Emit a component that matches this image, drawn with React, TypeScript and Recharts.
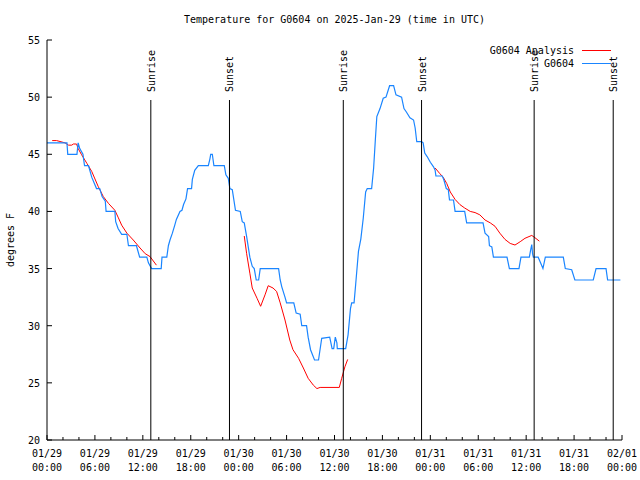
import React from 'react'
import { LineChart, Line, XAxis, YAxis, ReferenceLine, Legend } from 'recharts'

const TITLE = 'Temperature for G0604 on 2025-Jan-29 (time in UTC)'
const FONT = '"DejaVu Sans Mono", "Liberation Mono", monospace'
const BLUE = '#1a85ff'
const RED = '#ff0000'

// G0604 observations: [hours since 01/29 00:00 UTC, degrees F]
const OBSERVED: [number, number][] = [
  [0, 46], [2.5, 46], [2.6, 45], [3.75, 45], [3.9, 46], [4.1, 45.5], [4.5, 45], [4.7, 44],
  [5.2, 44], [5.6, 43], [6.2, 42], [6.6, 42], [6.9, 41.3], [7.3, 40.9], [7.4, 40], [8.5, 40],
  [8.6, 39.1], [8.9, 38.5], [9.35, 38], [10.0, 38], [10.2, 37], [11.2, 37], [11.6, 36], [12.5, 36],
  [12.7, 35.5], [13.1, 35], [14.3, 35], [14.4, 36], [15.0, 36], [15.2, 37], [15.4, 37.5], [15.7, 38.1],
  [16.0, 38.8], [16.2, 39.3], [16.65, 40], [16.9, 40.1], [17.1, 40.6], [17.4, 41.1], [17.6, 42], [18.1, 42],
  [18.2, 42.8], [18.5, 43.6], [18.95, 44], [20.2, 44], [20.4, 44.6], [20.5, 45], [20.7, 45], [20.9, 44],
  [22.2, 44], [22.4, 43.2], [22.7, 42.9], [22.9, 42], [23.2, 41.9], [23.6, 40.1], [24.2, 40], [24.45, 39.1],
  [24.7, 39], [25.0, 37.8], [25.4, 36], [25.7, 35.2], [25.95, 35], [26.2, 34], [26.5, 34], [26.7, 35],
  [29.0, 35], [29.2, 34], [29.4, 33.4], [29.8, 32.5], [30.0, 32], [30.9, 32], [31.2, 31.1], [31.7, 31],
  [31.9, 30], [32.5, 30], [32.7, 29], [33.0, 27.9], [33.5, 27], [34.0, 27], [34.4, 28.9], [35.4, 29],
  [35.7, 28], [35.9, 28], [36.1, 29], [36.3, 28.5], [36.35, 28], [37.4, 28], [37.7, 29.2], [38.0, 31.5],
  [38.15, 32], [38.45, 32], [38.65, 33.6], [39.0, 36.5], [39.3, 37.6], [39.6, 39.4], [39.9, 41.7], [40.1, 42],
  [40.65, 42], [40.9, 43.8], [41.1, 46.1], [41.3, 48.3], [41.7, 49], [42.1, 49.9], [42.45, 50], [42.9, 51],
  [43.4, 51], [43.7, 50.2], [44.4, 50], [44.7, 49], [45.0, 48.7], [45.45, 48.2], [45.9, 48], [46.1, 47.3],
  [46.3, 46.1], [46.9, 46.1], [47.1, 46], [47.3, 45.1], [47.6, 44.8], [48.0, 44.3], [48.4, 43.9], [48.6, 43.6],
  [48.7, 43.1], [49.5, 43.1], [49.7, 42.75], [50.0, 42], [50.25, 41.9], [50.4, 41], [50.9, 41], [51.1, 40],
  [52.3, 40], [52.55, 39], [54.6, 39], [54.85, 38.1], [55.3, 37.8], [55.4, 37], [55.7, 36.9], [55.9, 36],
  [57.6, 36], [57.9, 35], [59.1, 35], [59.35, 36], [60.4, 36], [60.55, 36.6], [60.7, 37.1], [60.8, 36.3],
  [60.9, 36], [61.5, 36], [61.8, 35.5], [62.1, 35], [62.4, 36], [64.65, 36], [64.9, 35], [65.7, 34.9],
  [66.1, 34], [68.4, 34], [68.75, 35], [70.0, 35], [70.2, 34], [71.8, 34],
]

// G0604 Analysis, one run per day
const ANALYSIS_DAY1: [number, number][] = [
  [0.65, 46.2], [1.2, 46.2], [2.25, 46.0], [2.7, 45.8], [3.1, 45.8], [3.3, 45.9], [3.7, 45.9], [3.9, 45.5],
  [4.3, 45.0], [5.0, 44.2], [5.6, 43.5], [6.4, 42.2], [7.05, 41.3], [7.7, 40.7], [8.5, 40.1], [8.9, 39.5],
  [9.35, 38.8], [10.0, 38.1], [10.8, 37.5], [11.65, 36.8], [12.3, 36.3], [12.9, 36.05], [13.7, 35.3],
]
const ANALYSIS_DAY2: [number, number][] = [
  [24.7, 37.85], [25.0, 36.3], [25.4, 34.6], [25.7, 33.3], [26.3, 32.4], [26.75, 31.7], [27.3, 32.7], [27.7, 33.5],
  [28.3, 33.3], [28.75, 33.0], [29.2, 32.0], [29.8, 30.5], [30.4, 28.75], [30.8, 27.9], [31.5, 27.15], [32.1, 26.3],
  [32.7, 25.4], [33.35, 24.8], [33.8, 24.5], [34.2, 24.6], [36.6, 24.6], [36.9, 25.4], [37.3, 26.4], [37.65, 27.05],
]
const ANALYSIS_DAY3: [number, number][] = [
  [48.6, 43.8], [49.2, 43.3], [49.6, 43.0], [50.05, 42.45], [50.5, 41.7], [51.1, 41.05], [51.7, 40.6], [52.3, 40.3],
  [53.0, 40.0], [53.6, 39.9], [54.2, 39.7], [54.85, 39.25], [55.5, 39.0], [56.1, 38.7], [56.7, 38.1], [57.35, 37.55],
  [58.0, 37.2], [58.6, 37.06], [59.25, 37.35], [59.85, 37.65], [60.7, 37.9], [61.1, 37.7], [61.65, 37.4],
]

const SUNRISE_HOURS = [13.0, 37.1, 61.0]
const SUNSET_HOURS = [22.85, 46.9, 70.9]
const SUN_LINE_TOP = 49.75

const X_TICKS = [0, 2, 4, 6, 8, 10, 12, 14, 16, 18, 20, 22, 24, 26, 28, 30, 32, 34, 36, 38, 40, 42, 44, 46, 48, 50, 52, 54, 56, 58, 60, 62, 64, 66, 68, 70, 72]
const X_MAJOR = [0, 6, 12, 18, 24, 30, 36, 42, 48, 54, 60, 66, 72]
const X_DATES = ['01/29', '01/29', '01/29', '01/29', '01/30', '01/30', '01/30', '01/30', '01/31', '01/31', '01/31', '01/31', '02/01']
const X_TIMES = ['00:00', '06:00', '12:00', '18:00', '00:00', '06:00', '12:00', '18:00', '00:00', '06:00', '12:00', '18:00', '00:00']
const Y_TICKS = [20, 25, 30, 35, 40, 45, 50, 55]

const toPoints = (rows: [number, number][]) => rows.map(([h, t]) => ({ h, t }))

const txt = { fontFamily: FONT, fontSize: 10, fill: '#000' }

function BottomTick(props: any) {
  const { x, y, payload } = props
  const i = X_MAJOR.indexOf(payload.value)
  return (
    <g>
      <line x1={x} y1={y} x2={x} y2={y - (i >= 0 ? 5 : 3)} stroke="#000" />
      {i >= 0 && (
        <>
          <text x={x} y={y + 17} textAnchor="middle" {...txt}>{X_DATES[i]}</text>
          <text x={x} y={y + 31} textAnchor="middle" {...txt}>{X_TIMES[i]}</text>
        </>
      )}
    </g>
  )
}

function TopTick(props: any) {
  const { x, y, payload } = props
  const major = X_MAJOR.includes(payload.value)
  return <line x1={x} y1={y} x2={x} y2={y + (major ? 5 : 3)} stroke="#000" />
}

function LeftTick(props: any) {
  const { x, y, payload } = props
  return (
    <g>
      <line x1={x} y1={y} x2={x + 5} y2={y} stroke="#000" />
      <text x={x - 7} y={y + 4} textAnchor="end" {...txt}>{payload.value}</text>
    </g>
  )
}

function RightTick(props: any) {
  const { x, y } = props
  return <line x1={x} y1={y} x2={x - 5} y2={y} stroke="#000" />
}

// vertical text sitting just above the sunrise/sunset line
function sunLabel(text: string) {
  return (props: any) => {
    const vb = props.viewBox || {}
    const top = Math.min(vb.y, vb.y + (vb.height || 0))
    const x = vb.x + 4
    const y = top - 8
    return (
      <text x={x} y={y} transform={`rotate(-90, ${x}, ${y})`} textAnchor="start" {...txt}>
        {text}
      </text>
    )
  }
}

function YTitle(props: any) {
  const vb = props.viewBox
  const x = vb.x + 14
  const y = vb.y + vb.height / 2
  return (
    <text x={x} y={y} transform={`rotate(-90, ${x}, ${y})`} textAnchor="middle" {...txt}>
      degrees F
    </text>
  )
}

function KeyBox() {
  const rows = [
    { name: 'G0604 Analysis', color: RED, w: 1 },
    { name: 'G0604', color: BLUE, w: 1 },
  ]
  return (
    <div style={{ position: 'absolute', left: 380, top: 44, fontFamily: FONT, fontSize: 10, color: '#000' }}>
      {rows.map((r) => (
        <div key={r.name} style={{ display: 'flex', alignItems: 'center', height: 13 }}>
          <span style={{ width: 194, textAlign: 'right', whiteSpace: 'pre' }}>{r.name}</span>
          <span style={{ marginLeft: 8, width: 29, height: 0, borderTop: `${r.w}px solid ${r.color}` }} />
        </div>
      ))}
    </div>
  )
}

export default function App() {
  return (
    <div style={{ position: 'absolute', left: 0, top: 0, width: 640, height: 480, background: '#fff' }}>
      <div
        style={{
          position: 'absolute', left: 47, top: 13, width: 575, textAlign: 'center',
          fontFamily: FONT, fontSize: 10, lineHeight: '14px', whiteSpace: 'pre',
        }}
      >
        {TITLE}
      </div>
      <LineChart width={640} height={480} margin={{ top: 40, right: 18, bottom: 0, left: 0 }}>
        <XAxis
          xAxisId="bottom" type="number" dataKey="h" domain={[0, 72]} ticks={X_TICKS} interval={0}
          allowDataOverflow height={40} tickSize={0} tickMargin={0} tickLine={false}
          axisLine={{ stroke: '#000' }} tick={(p: any) => <BottomTick {...p} />}
        />
        <XAxis
          xAxisId="top" orientation="top" type="number" dataKey="h" domain={[0, 72]} ticks={X_TICKS} interval={0}
          allowDataOverflow height={0} tickSize={0} tickMargin={0} tickLine={false}
          axisLine={{ stroke: '#000' }} tick={(p: any) => <TopTick {...p} />}
        />
        <YAxis
          yAxisId="left" type="number" domain={[20, 55]} ticks={Y_TICKS} interval={0} allowDataOverflow
          width={47} tickSize={0} tickMargin={0} tickLine={false} axisLine={{ stroke: '#000' }}
          tick={(p: any) => <LeftTick {...p} />} label={{ content: (p: any) => <YTitle {...p} /> }}
        />
        <YAxis
          yAxisId="right" orientation="right" type="number" domain={[20, 55]} ticks={Y_TICKS} interval={0}
          allowDataOverflow width={0} tickSize={0} tickMargin={0} tickLine={false}
          axisLine={{ stroke: '#000' }} tick={(p: any) => <RightTick {...p} />}
        />
        <Legend
          layout="horizontal" verticalAlign="middle" align="center"
          wrapperStyle={{ left: 0, top: 0, width: 640, height: 0 }}
          content={() => <KeyBox />}
        />
        {[ANALYSIS_DAY1, ANALYSIS_DAY2, ANALYSIS_DAY3].map((seg, i) => (
          <Line
            key={i} data={toPoints(seg)} xAxisId="bottom" yAxisId="left" dataKey="t" type="linear"
            stroke={RED} strokeWidth={1} dot={false} activeDot={false} isAnimationActive={false}
          />
        ))}
        <Line
          data={toPoints(OBSERVED)} xAxisId="bottom" yAxisId="left" dataKey="t" type="linear"
          stroke={BLUE} strokeWidth={1.2} dot={false} activeDot={false} isAnimationActive={false}
        />
        {SUNRISE_HOURS.map((h) => (
          <ReferenceLine
            key={`rise${h}`} xAxisId="bottom" yAxisId="left"
            segment={[{ x: h, y: 20 }, { x: h, y: SUN_LINE_TOP }]}
            stroke="#000" strokeWidth={1} label={sunLabel('Sunrise')}
          />
        ))}
        {SUNSET_HOURS.map((h) => (
          <ReferenceLine
            key={`set${h}`} xAxisId="bottom" yAxisId="left"
            segment={[{ x: h, y: 20 }, { x: h, y: SUN_LINE_TOP }]}
            stroke="#000" strokeWidth={1} label={sunLabel('Sunset')}
          />
        ))}
      </LineChart>
    </div>
  )
}
